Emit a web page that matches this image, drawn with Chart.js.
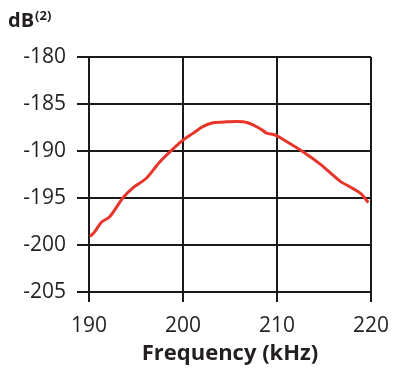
<!DOCTYPE html>
<html>
<head>
<meta charset="utf-8">
<script src="https://cdn.jsdelivr.net/npm/chart.js@4/dist/chart.umd.min.js"></script>
<style>
  html, body { margin: 0; padding: 0; background: #fff; }
  #wrap { width: 393px; height: 368px; }
</style>
</head>
<body>
<div id="wrap"><canvas id="chart" width="393" height="368"></canvas></div>
<script>
// values
var freqKHz = [190.1, 190.6, 191.3, 192.2, 193.6, 194.7, 196.1, 197.5, 198.6, 199.8,
               201.1, 202.1, 203.2, 204.6, 206.4, 207.5, 208.4, 208.9, 209.8, 210.7,
               212.8, 214.6, 216.7, 218.1, 219.0, 219.7];
var levelDB = [-199.1, -198.6, -197.6, -197.0, -195.0, -193.9, -192.9, -191.2, -190.1, -189.0,
               -188.1, -187.4, -187.0, -186.9, -186.9, -187.25, -187.75, -188.1, -188.3, -188.8,
               -190.1, -191.4, -193.2, -194.0, -194.6, -195.5];
var xTicks = [190, 200, 210, 220];
var yTicks = [-205, -200, -195, -190, -185, -180];

var textColor = '#231f20';
var gridColor = '#1a1a1a';
var fontFam = '"Open Sans", "DejaVu Sans", sans-serif';

var points = freqKHz.map(function (f, i) { return { x: f, y: levelDB[i] }; });

// unit label in the top-left corner
var unitLabel = {
    id: 'unitLabel',
    afterDraw: function (chart) {
        var c = chart.ctx;
        c.save();
        c.fillStyle = textColor;
        c.textBaseline = 'alphabetic';
        c.font = 'bold 20px ' + fontFam;
        c.fillText('dB', 8, 27);
        var w = c.measureText('dB').width;
        c.font = 'bold 13px ' + fontFam;
        c.fillText('(2)', 8 + w + 1, 20);
        c.restore();
    }
};

var ctx = document.getElementById('chart').getContext('2d');
var chart = new Chart(ctx, {
    type: 'line',
    data: {
        datasets: [{
            data: points,
            borderColor: '#e8352b',
            borderWidth: 3,
            pointRadius: 0,
            tension: 0.3,
            fill: false
        }]
    },
    options: {
        responsive: false,
        animation: false,
        layout: { padding: { top: 57, right: 22, bottom: 0, left: 0 } },
        plugins: { legend: { display: false }, tooltip: { enabled: false } },
        scales: {
            x: {
                type: 'linear',
                min: 190,
                max: 220,
                afterBuildTicks: function (s) { s.ticks = xTicks.map(function (v) { return { value: v }; }); },
                afterFit: function (s) { s.height = 76; s.paddingLeft = 0; s.paddingRight = 0; },
                grid: { color: gridColor, lineWidth: 2, tickLength: 10, drawTicks: true },
                border: { color: gridColor, width: 2 },
                ticks: { color: textColor, font: { family: fontFam, size: 21 }, padding: 11, maxRotation: 0 },
                title: {
                    display: true,
                    text: 'Frequency (kHz)',
                    color: textColor,
                    font: { family: fontFam, size: 22, weight: 'bold' },
                    padding: { top: 0, bottom: 1 }
                }
            },
            y: {
                min: -205,
                max: -180,
                afterBuildTicks: function (s) { s.ticks = yTicks.map(function (v) { return { value: v }; }); },
                afterFit: function (s) { s.width = 89; s.paddingTop = 0; s.paddingBottom = 0; },
                grid: { color: gridColor, lineWidth: 2, tickLength: 12, drawTicks: true },
                border: { color: gridColor, width: 2 },
                ticks: { color: textColor, font: { family: fontFam, size: 21 }, padding: 11 }
            }
        }
    },
    plugins: [unitLabel]
});
</script>
</body>
</html>
